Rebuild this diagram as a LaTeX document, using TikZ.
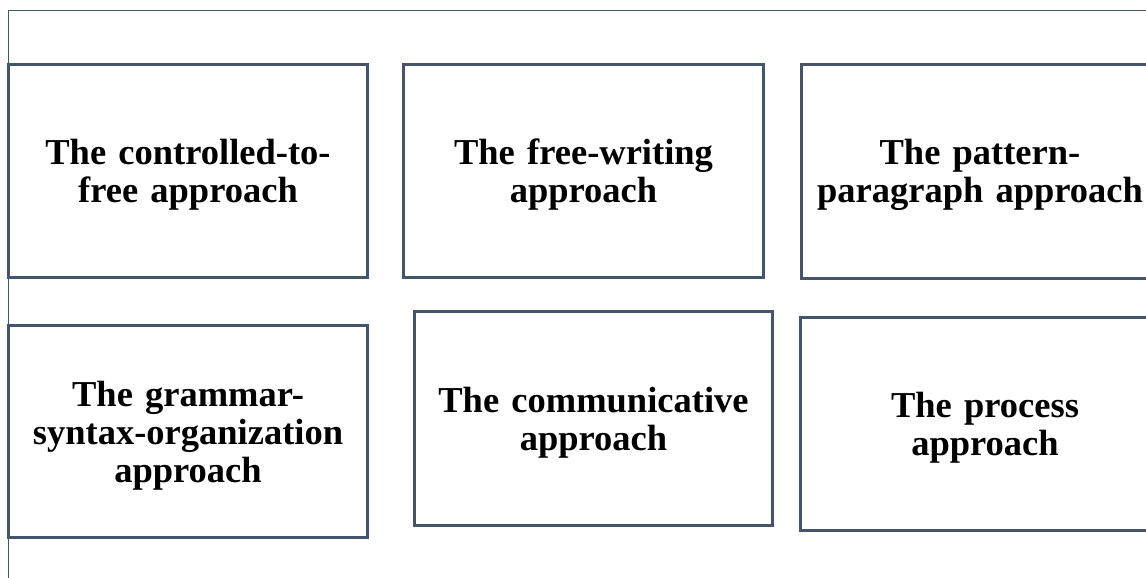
\documentclass[tikz,border=0pt]{standalone}
\usepackage{fontspec}
\setmainfont{Liberation Serif}
\usepackage{tikz}
\usetikzlibrary{positioning}
\definecolor{slate}{HTML}{44546A}

\begin{document}
\begin{tikzpicture}[x=1pt, y=-1pt,
    approach/.style={draw=slate, line width=3pt, rectangle, inner sep=0pt,
        minimum height=213pt, text width=345pt, align=center,
        font=\fontsize{36.5}{38}\selectfont\bfseries,
        execute at begin node={\rule{0pt}{33pt}}},
    frameline/.style={draw=slate, line width=1pt}
]
    \useasboundingbox (0, 0) rectangle (1146, 578);

    % Outer frame (only top and left sides visible)
    \coordinate (fbl) at (8, 590);
    \coordinate (ftl) at (8, 11);
    \coordinate (ftr) at (1160, 11);
    \draw[frameline] (fbl) -- (ftl) -- (ftr);

    % Top row
    \node[approach, minimum width=359pt] (ctf) at (188, 171) {The controlled-to-\\free approach};
    \node[approach, minimum width=360pt] (fw) at (583.5, 171) {The free-writing\\approach};
    \node[approach, minimum width=357pt] (pp) at (980, 171.5) {The pattern-\\paragraph approach};

    % Bottom row
    \node[approach, minimum width=359pt, minimum height=212pt] (gso) at (188, 431.5) {The grammar-\\syntax-organization\\approach};
    \node[approach, minimum width=358pt, minimum height=214pt] (com) at (593.5, 418.5) {The communicative\\approach};
    \node[approach, minimum width=369pt] (proc) at (985, 424) {The process\\approach};

\end{tikzpicture}
\end{document}
